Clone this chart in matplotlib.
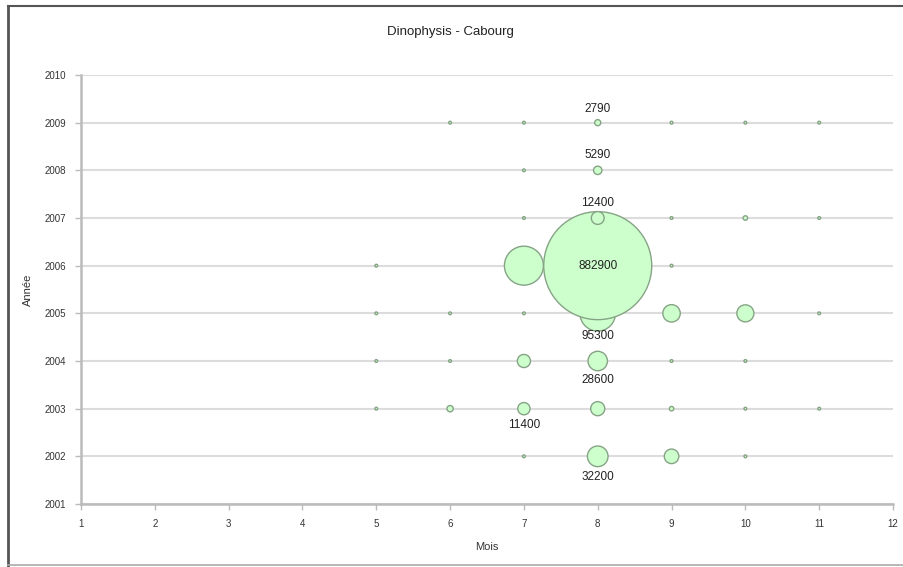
import numpy as np
import matplotlib
matplotlib.use("Agg")
import matplotlib.pyplot as plt
from matplotlib.lines import Line2D

plt.rcParams['font.family'] = ['Liberation Sans', 'DejaVu Sans']

# Monthly Dinophysis counts at Cabourg (cells/L), one row per year
months = [7, 8, 9, 10,
          5, 6, 7, 8, 9, 10, 11,
          5, 6, 7, 8, 9, 10,
          5, 6, 7, 8, 9, 10, 11,
          5, 7, 8, 9,
          7, 8, 9, 10, 11,
          7, 8,
          6, 7, 8, 9, 10, 11]
years = [2002, 2002, 2002, 2002,
         2003, 2003, 2003, 2003, 2003, 2003, 2003,
         2004, 2004, 2004, 2004, 2004, 2004,
         2005, 2005, 2005, 2005, 2005, 2005, 2005,
         2006, 2006, 2006, 2006,
         2007, 2007, 2007, 2007, 2007,
         2008, 2008,
         2009, 2009, 2009, 2009, 2009, 2009]
counts = [100, 32200, 16000, 100,
          50, 3000, 11400, 15000, 1500, 100, 50,
          200, 400, 13000, 28600, 150, 50,
          100, 150, 300, 95300, 23000, 22000, 100,
          50, 115000, 882900, 100,
          150, 12400, 200, 1500, 300,
          200, 5290,
          50, 50, 2790, 50, 300, 50]

# Labelled bubbles: (month, year, value, vertical offset in points)
label_months = [8, 7, 8, 8, 8, 8, 8, 8]
label_years = [2002, 2003, 2004, 2005, 2006, 2007, 2008, 2009]
label_values = [32200, 11400, 28600, 95300, 882900, 12400, 5290, 2790]
label_dy = [-15, -12, -14, -16, 0, 11, 11, 10]

x_ticks = list(range(1, 13))
y_ticks = list(range(2001, 2011))

fig = plt.figure(figsize=(9.04, 5.67), dpi=100)
ax = fig.add_axes([81 / 904, 1 - 504 / 567, (893 - 81) / 904, (504 - 75) / 567])

# Bubble area proportional to count; largest bubble ~108 px across
max_diam_pt = 108 * 72 / fig.dpi
sizes = np.array(counts) / max(counts) * max_diam_pt ** 2
sizes = np.maximum(sizes, 4.0)

ax.scatter(months, years, s=sizes, facecolor='#CCFFCC', edgecolor='#86A386',
           linewidth=1.0, zorder=3)

for m, y, v, dy in zip(label_months, label_years, label_values, label_dy):
    ax.annotate(f"{v}", (m, y), xytext=(0, dy), textcoords='offset points',
                ha='center', va='center', fontsize=8.5, color='#222222', zorder=4)

ax.set_xlim(1, 12)
ax.set_ylim(2001, 2010)
ax.set_xticks(x_ticks)
ax.set_yticks(y_ticks)
ax.set_xticklabels([str(t) for t in x_ticks])
ax.set_yticklabels([str(t) for t in y_ticks])

ax.grid(axis='y', color='#DCDCDC', linewidth=1.5, zorder=0)
ax.grid(axis='x', visible=False)
ax.set_axisbelow(True)

for side in ('top', 'right'):
    ax.spines[side].set_visible(False)
for side in ('left', 'bottom'):
    ax.spines[side].set_color('#BBBBBB')
    ax.spines[side].set_linewidth(1.8)

ax.tick_params(axis='both', direction='out', length=4, width=1, color='#BBBBBB',
               labelsize=7, labelcolor='#333333', pad=7)

ax.set_xlabel('Mois', fontsize=8, color='#333333', labelpad=9)
ax.set_ylabel('Année', fontsize=8, color='#333333', labelpad=8)

fig.text(0.498, 1 - 32 / 567, 'Dinophysis - Cabourg', ha='center', va='center',
         fontsize=9.5, color='#222222')

# Chart frame edges
fig.add_artist(Line2D([8 / 904, 8 / 904], [0, 1 - 6 / 567], color='#555555', linewidth=2))
fig.add_artist(Line2D([8 / 904, 1], [1 - 6 / 567, 1 - 6 / 567], color='#555555', linewidth=1.5))
fig.add_artist(Line2D([8 / 904, 1], [2 / 567, 2 / 567], color='#AAAAAA', linewidth=1.2))

fig.savefig('out.png', dpi=100, facecolor='white')
